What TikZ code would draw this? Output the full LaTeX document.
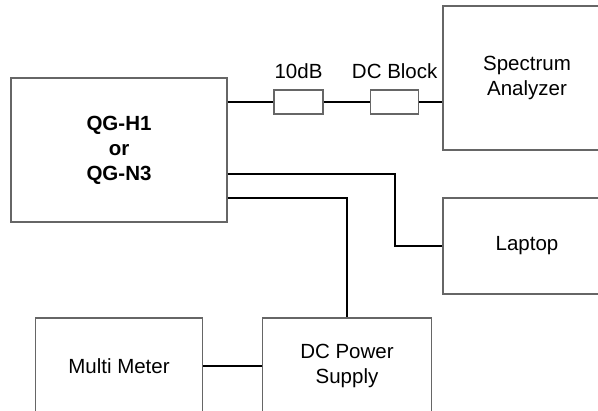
\documentclass[tikz,border=0pt]{standalone}
\usepackage{fontspec}
\setmainfont{Liberation Sans}
\usetikzlibrary{positioning}

\tikzset{
  unit/.style={draw=black!60,line width=1.1pt,align=center,inner sep=0pt,
    font=\fontsize{20.5}{25}\selectfont},
  pad/.style={draw=black!60,line width=1.1pt,minimum width=49pt,minimum height=24pt,inner sep=0pt},
  padlabel/.style={inner sep=0pt,font=\fontsize{20.5}{25}\selectfont},
  wire/.style={line width=2pt,black}
}

\begin{document}
\begin{tikzpicture}[x=1pt,y=-1pt]
  \path[use as bounding box,clip] (0,0) rectangle (598,411);

  % instruments
  \node[unit,minimum width=216pt,minimum height=144pt,font=\fontsize{20.5}{25}\bfseries]
    (qg) at (119,150) {QG-H1\\or\\QG-N3};
  \node[unit,minimum width=168pt,minimum height=144pt] (sa) at (527,78) {Spectrum\\Analyzer};
  \node[unit,minimum width=168pt,minimum height=96pt] (laptop) at (527,246) {Laptop};
  \node[unit,minimum width=168.6pt,minimum height=96pt] (dcps) at (347,366) {DC Power\\Supply};
  \node[unit,minimum width=167.7pt,minimum height=96pt] (mm) at (119,366) {Multi Meter};

  % inline parts on the RF path
  \node[pad,label={[padlabel,label distance=10.7pt]above:10dB}] (att) at (298.5,102) {};
  \node[pad,minimum width=48pt,label={[padlabel,label distance=10.7pt]above:DC Block}] (dcb) at (394.7,102) {};

  \coordinate (lapbend) at (394.7,0);

  \draw[wire] (qg.east |- att) -- (att.west);
  \draw[wire] (att.east) -- (dcb.west);
  \draw[wire] (dcb.east) -- (sa.west |- dcb);
  \draw[wire] ([yshift=-24pt]qg.east) -| (lapbend |- laptop.west) -- (laptop.west);
  \draw[wire] ([yshift=-48pt]qg.east) -| (dcps.north);
  \draw[wire,line width=1.6pt] (mm.east) -- (dcps.west);
\end{tikzpicture}
\end{document}
